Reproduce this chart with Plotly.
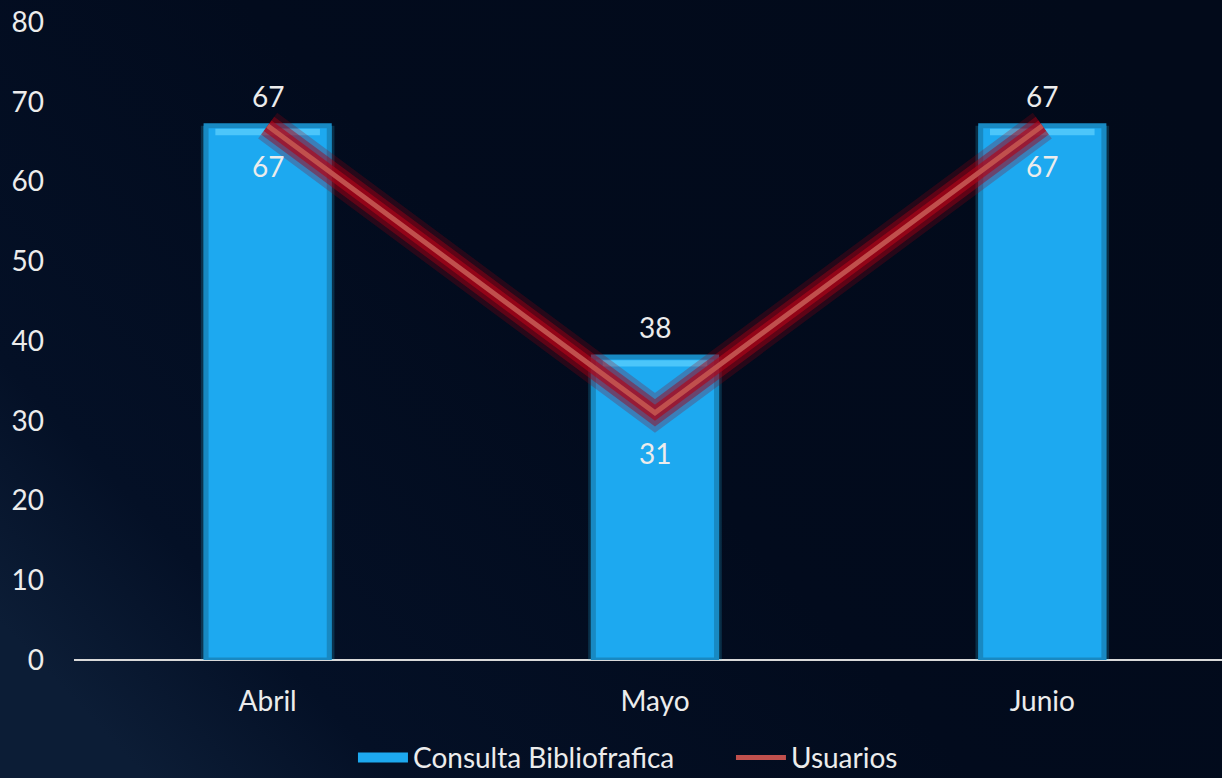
import base64
import plotly.graph_objects as go

meses = ["Abril", "Mayo", "Junio"]
consulta = [67, 38, 67]
usuarios = [67, 31, 67]

FONT = "Lato"
TXT = "#ECECEC"
FS = 28

# fondo con un leve degradado azul a la izquierda
svg = (
    '<svg xmlns="http://www.w3.org/2000/svg" width="1222" height="778">'
    '<defs><linearGradient id="g" x1="0" y1="0.8" x2="1" y2="0.2">'
    '<stop offset="0" stop-color="#0C1D36"/>'
    '<stop offset="0.15" stop-color="#041026"/>'
    '<stop offset="0.5" stop-color="#020B1D"/>'
    '<stop offset="1" stop-color="#020A1A"/>'
    '</linearGradient></defs>'
    '<rect width="1222" height="778" fill="url(#g)"/></svg>'
)
bg_src = "data:image/svg+xml;base64," + base64.b64encode(svg.encode()).decode()

fig = go.Figure()

# halo alrededor de las barras
fig.add_trace(go.Bar(
    x=meses, y=consulta, width=0.345,
    marker=dict(color="rgba(40,190,240,0.2)", line=dict(width=0)),
    showlegend=False, hoverinfo="skip",
))
fig.add_trace(go.Bar(
    x=meses, y=consulta, width=0.332,
    marker=dict(color="rgba(40,190,240,0.38)", line=dict(width=0)),
    showlegend=False, hoverinfo="skip",
))
fig.add_trace(go.Bar(
    x=meses, y=consulta, width=0.318, name="Consulta Bibliofrafica",
    marker=dict(color="#1DA9F0", line=dict(color="#1889C2", width=5)),
    showlegend=False,
))
# bisel superior claro
fig.add_trace(go.Bar(
    x=meses, y=[0.8] * len(consulta), base=[v - 1.2 for v in consulta], width=0.27,
    marker=dict(color="#4CC6FA", line=dict(width=0)),
    showlegend=False, hoverinfo="skip",
))

# brillo rojo de la linea
fig.add_trace(go.Scatter(
    x=meses, y=usuarios, mode="lines",
    line=dict(color="rgba(150,0,15,0.25)", width=32),
    showlegend=False, hoverinfo="skip",
))
fig.add_trace(go.Scatter(
    x=meses, y=usuarios, mode="lines",
    line=dict(color="rgba(165,0,20,0.45)", width=22),
    showlegend=False, hoverinfo="skip",
))
fig.add_trace(go.Scatter(
    x=meses, y=usuarios, mode="lines",
    line=dict(color="rgba(175,5,25,0.65)", width=13),
    showlegend=False, hoverinfo="skip",
))

# entradas de leyenda
fig.add_trace(go.Scatter(
    x=[None], y=[None], mode="lines", name="Consulta Bibliofrafica",
    line=dict(color="#1DA9F0", width=16),
))
fig.add_trace(go.Scatter(
    x=meses, y=usuarios, mode="lines", name="Usuarios",
    line=dict(color="#C0504D", width=5),
))

for m, v in zip(meses, consulta):
    fig.add_annotation(x=m, y=v, text=str(v), showarrow=False, yshift=30,
                       font=dict(family=FONT, size=FS, color=TXT))
for m, v in zip(meses, usuarios):
    fig.add_annotation(x=m, y=v, text=str(v), showarrow=False, yshift=-40,
                       font=dict(family=FONT, size=FS, color=TXT))

fig.update_layout(
    width=1222, height=778,
    barmode="overlay",
    paper_bgcolor="#030D20", plot_bgcolor="rgba(0,0,0,0)",
    images=[dict(source=bg_src, xref="paper", yref="paper", x=-74 / 1148, y=1 + 22 / 638,
                 sizex=1222 / 1148, sizey=778 / 638, sizing="stretch", layer="below",
                 xanchor="left", yanchor="top")],
    margin=dict(l=74, r=0, t=22, b=118),
    font=dict(family=FONT, size=FS, color=TXT),
    showlegend=True,
    legend=dict(orientation="h", x=0.243, xanchor="left", yref="container",
                y=0.026, yanchor="middle",
                font=dict(family=FONT, size=FS, color=TXT), bgcolor="rgba(0,0,0,0)",
                traceorder="normal", itemwidth=50, entrywidth=313),
    xaxis=dict(range=[-0.5, 2.464], showgrid=False, zeroline=False,
               showline=False, ticks="", ticklabelstandoff=22,
               tickfont=dict(size=FS, color=TXT)),
    yaxis=dict(range=[0, 80], dtick=10, showgrid=False, zeroline=True,
               zerolinecolor="#D9D9D9", zerolinewidth=2, showline=False,
               ticks="", ticklabelstandoff=29, tickfont=dict(size=FS, color=TXT)),
)

fig.write_html("out.html", config={"displayModeBar": False}, post_script=(
    "document.body.style.margin='0';"
    "document.body.style.background='#030D20';"
    "document.documentElement.style.overflow='hidden';"
))
